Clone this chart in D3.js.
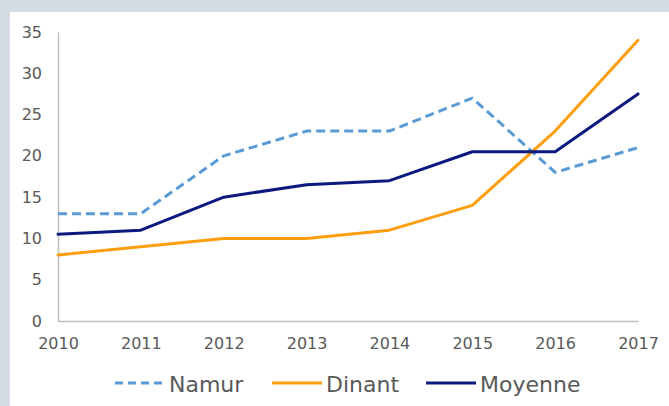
<!DOCTYPE html>
<html>
<head>
<meta charset="utf-8">
<script src="https://cdn.jsdelivr.net/npm/d3@7"></script>
<style>
  html, body { margin: 0; padding: 0; background: #d6dce4; }
  svg { display: block; }
</style>
</head>
<body>
<svg id="chart"></svg>
<script>
(function() {
    'use strict';

    var years = ['2010', '2011', '2012', '2013', '2014', '2015', '2016', '2017'];
    var namur = [13, 13, 20, 23, 23, 27, 18, 21];
    var dinant = [8, 9, 10, 10, 11, 14, 23, 34];
    var moyenne = [10.5, 11, 15, 16.5, 17, 20.5, 20.5, 27.5];
    var yTicks = [0, 5, 10, 15, 20, 25, 30, 35];

    var series = [
        { name: 'Namur', values: namur, color: '#5b9bd5', dash: '9,5' },
        { name: 'Dinant', values: dinant, color: '#ff9e0d', dash: null },
        { name: 'Moyenne', values: moyenne, color: '#0c1a80', dash: null }
    ];

    var width = 669, height = 406;
    var textColor = '#595959';
    var font = 'Verdana, "DejaVu Sans", sans-serif';

    var svg = d3.select('#chart')
        .attr('width', width)
        .attr('height', height);

    svg.append('rect')
        .attr('x', 10)
        .attr('y', 12)
        .attr('width', width - 10)
        .attr('height', height - 12)
        .attr('fill', '#ffffff');

    var scaleX = d3.scalePoint()
        .domain(years)
        .range([58, 638]);

    var scaleY = d3.scaleLinear()
        .domain([0, 35])
        .range([321, 32]);

    // y axis
    var yAxis = svg.append('g')
        .attr('class', 'y axis')
        .attr('transform', 'translate(58,0)')
        .call(d3.axisLeft(scaleY).tickValues(yTicks).tickSize(0).tickPadding(16));
    yAxis.select('.domain').attr('stroke', '#bfbfbf').attr('stroke-width', 1.5);
    yAxis.selectAll('text')
        .attr('fill', textColor)
        .attr('font-size', 16)
        .attr('font-family', font);

    // x axis
    var xAxis = svg.append('g')
        .attr('class', 'x axis')
        .attr('transform', 'translate(0,321)')
        .call(d3.axisBottom(scaleX).tickSize(0).tickPadding(17));
    xAxis.select('.domain').attr('stroke', '#bfbfbf').attr('stroke-width', 1.5);
    xAxis.selectAll('text')
        .attr('fill', textColor)
        .attr('font-size', 16)
        .attr('font-family', font);

    var line = d3.line()
        .x(function(d, i) { return scaleX(years[i]); })
        .y(function(d) { return scaleY(d); })
        .curve(d3.curveLinear);

    series.forEach(function(s) {
        svg.append('path')
            .datum(s.values)
            .attr('d', line)
            .attr('fill', 'none')
            .attr('stroke', s.color)
            .attr('stroke-width', 3)
            .attr('stroke-linejoin', 'round')
            .attr('stroke-linecap', s.dash ? 'butt' : 'round')
            .attr('stroke-dasharray', s.dash);
    });

    // legend
    var legendX = [115, 272, 426];
    var legend = svg.append('g').attr('class', 'legend');
    series.forEach(function(s, i) {
        var g = legend.append('g').attr('transform', 'translate(' + legendX[i] + ',383)');
        g.append('line')
            .attr('x1', 0).attr('x2', 50)
            .attr('y1', 0).attr('y2', 0)
            .attr('stroke', s.color)
            .attr('stroke-width', 3)
            .attr('stroke-dasharray', s.dash ? '8,5' : null);
        g.append('text')
            .attr('x', 54)
            .attr('y', 8.5)
            .attr('fill', textColor)
            .attr('font-size', 22)
            .attr('font-family', font)
            .text(s.name);
    });
}());
</script>
</body>
</html>
